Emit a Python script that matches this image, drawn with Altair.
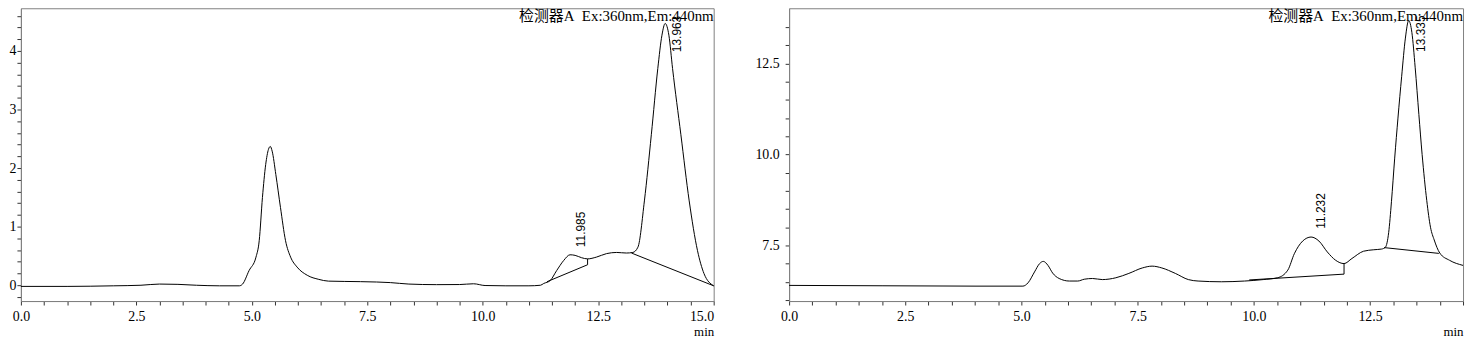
import altair as alt
import pandas as pd

# ---------------- data ----------------
# Left chromatogram
L_t = [0.0, 1.0, 2.0, 2.6, 3.0, 3.4, 3.8, 4.3, 4.73, 4.8,
       4.94, 5.09, 5.16, 5.23, 5.30, 5.36, 5.40, 5.44, 5.52, 5.62,
       5.73, 5.84, 5.98, 6.2, 6.45, 6.66, 7.0, 7.7, 8.0, 8.4,
       9.0, 9.5, 9.8, 10.05, 10.5, 11.0, 11.25, 11.32, 11.46, 11.6,
       11.75, 11.89, 12.0, 12.14, 12.27, 12.46, 12.68, 12.9, 13.11, 13.25,
       13.36, 13.5, 13.65, 13.79, 13.88, 13.95, 14.03, 14.11, 14.29, 14.47,
       14.65, 14.79, 15.0]
L_v = [-0.02, -0.02, -0.01, 0.0, 0.02, 0.015, 0.0, -0.01, -0.01, 0.02,
       0.25, 0.48, 0.76, 1.5, 2.06, 2.32, 2.37, 2.29, 1.89, 1.33,
       0.76, 0.48, 0.31, 0.17, 0.10, 0.07, 0.065, 0.055, 0.045, 0.02,
       0.01, 0.012, 0.025, -0.005, -0.01, -0.01, 0.0, 0.03, 0.08, 0.25,
       0.42, 0.52, 0.51, 0.47, 0.45, 0.48, 0.54, 0.56, 0.55, 0.56,
       0.65, 1.44, 2.57, 3.7, 4.27, 4.47, 4.27, 3.7, 2.57, 1.44,
       0.59, 0.2, -0.01]
# integration baselines (left)
LB_t = [11.39, 12.27, 12.27, 13.22, 15.0]
LB_v = [0.06, 0.35, 0.45, 0.55, -0.01]
LB_seg = ["a", "a", "a", "b", "b"]
# peak labels (left)
LP_t = [12.12, 14.2]
LP_v = [0.65, 3.98]
LP_txt = ["11.985", "13.963"]

# Right chromatogram
R_t = [0.0, 2.0, 4.0, 5.03, 5.14, 5.28, 5.39, 5.47, 5.57, 5.67,
       5.81, 6.03, 6.21, 6.35, 6.53, 6.74, 7.03, 7.31, 7.6, 7.81,
       8.02, 8.31, 8.59, 8.8, 9.3, 9.8, 10.2, 10.51, 10.73, 10.87,
       11.05, 11.23, 11.4, 11.58, 11.76, 11.94, 12.11, 12.36, 12.58, 12.75,
       12.83, 12.9, 12.96, 13.03, 13.1, 13.18, 13.26, 13.33, 13.4, 13.47,
       13.55, 13.62, 13.72, 13.8, 13.88, 14.0, 14.21, 14.5]
R_v = [6.40, 6.39, 6.38, 6.38, 6.47, 6.77, 7.0, 7.06, 6.95, 6.74,
       6.59, 6.52, 6.52, 6.57, 6.59, 6.56, 6.61, 6.73, 6.88, 6.93,
       6.88, 6.73, 6.56, 6.52, 6.50, 6.52, 6.56, 6.61, 6.82, 7.27,
       7.62, 7.73, 7.62, 7.32, 7.09, 7.0, 7.14, 7.34, 7.38, 7.4,
       7.45, 7.85, 8.7, 9.9, 11.0, 12.15, 13.2, 13.68, 13.35, 12.4,
       11.1, 10.0, 8.73, 8.0, 7.65, 7.29, 7.09, 6.95]
RB_t = [9.9, 11.94, 11.94, 12.8, 13.98]
RB_v = [6.55, 6.71, 7.0, 7.44, 7.28]
RB_seg = ["a", "a", "a", "b", "b"]
RP_t = [11.44, 13.59]
RP_v = [7.96, 12.82]
RP_txt = ["11.232", "13.335"]

TITLE = "检测器A\u00a0\u00a0Ex:360nm,Em:440nm"
FONT = "Liberation Serif, Noto Sans CJK SC"
LABFONT = "Liberation Sans, Noto Sans"
GRAY = "#808080"


def panel(t, v, bt, bv, bseg, pt, pv, ptxt, xmax, ydom, yvals, ylabexpr,
          width, height, xlabel_align, ylabpad):
    curve = pd.DataFrame({"t": t, "v": v})
    base = pd.DataFrame({"t": bt, "v": bv, "seg": bseg, "i": list(range(len(bt)))})
    labs = pd.DataFrame({"t": pt, "v": pv, "label": ptxt})
    xvals = [round(0.5 * i, 1) for i in range(int(round(xmax / 0.5)) + 1)]
    xs = alt.Scale(domain=[0, xmax], nice=False, zero=False)
    ys = alt.Scale(domain=ydom, nice=False, zero=False)
    xaxis = alt.Axis(
        values=xvals,
        labelExpr="datum.value % 2.5 == 0 ? format(datum.value, '.1f') : ''",
        labelAlign=xlabel_align,
        labelOverlap=False,
        tickSize=4,
        labelPadding=5,
        title="min",
        titleAnchor="end",
        titleAlign="right",
        titleFont=FONT,
        titleFontSize=13,
        titleFontWeight="normal",
        titleColor="#000000",
        titlePadding=2,
    )
    yaxis = alt.Axis(
        values=yvals,
        labelExpr=ylabexpr,
        labelOverlap=False,
        tickSize=4,
        labelPadding=ylabpad,
        title=None,
    )
    X = alt.X("t:Q", scale=xs, axis=xaxis)
    Y = alt.Y("v:Q", scale=ys, axis=yaxis)
    line = alt.Chart(curve).mark_line(
        color="#000000", strokeWidth=1, interpolate="monotone"
    ).encode(x=X, y=Y)
    bl = alt.Chart(base).mark_line(color="#000000", strokeWidth=1).encode(
        x=X, y=Y, detail="seg:N", order="i:Q"
    )
    pk = alt.Chart(labs).mark_text(
        angle=270, align="left", baseline="middle", font=LABFONT,
        fontSize=12, color="#000000"
    ).encode(x=X, y=Y, text="label:N")
    ttl = alt.Chart(pd.DataFrame({"s": [TITLE]})).mark_text(
        align="right", baseline="top", font=FONT, fontSize=15, color="#000000"
    ).encode(x=alt.value(width), y=alt.value(1), text="s:N")
    return alt.layer(line, bl, pk, ttl).properties(width=width, height=height)


left = panel(
    L_t, L_v, LB_t, LB_v, LB_seg, LP_t, LP_v, LP_txt,
    15.0, [-0.27, 4.73],
    [round(-0.2 + 0.2 * i, 1) for i in range(25)],
    "datum.value == round(datum.value) ? format(datum.value, 'd') : ''",
    698, 295,
    {"condition": {"test": "datum.value >= 15", "value": "right"}, "value": "center"},
    1,
)
right = panel(
    R_t, R_v, RB_t, RB_v, RB_seg, RP_t, RP_v, RP_txt,
    14.5, [5.97, 14.02],
    [round(6.0 + 0.5 * i, 1) for i in range(16)],
    "datum.value % 2.5 == 0 ? format(datum.value, '.1f') : ''",
    679, 295, "center", 6,
)

chart = alt.hconcat(left, right, spacing=38).properties(
    padding={"top": -2, "left": 0, "right": 0, "bottom": 0}
).configure_view(
    stroke=GRAY, strokeWidth=1
).configure_axis(
    grid=False,
    domainColor=GRAY,
    tickColor="#333333",
    labelFont=FONT,
    labelFontSize=14,
    labelColor="#000000",
)

chart.save("out.html", embed_options={"renderer": "svg", "actions": False})
